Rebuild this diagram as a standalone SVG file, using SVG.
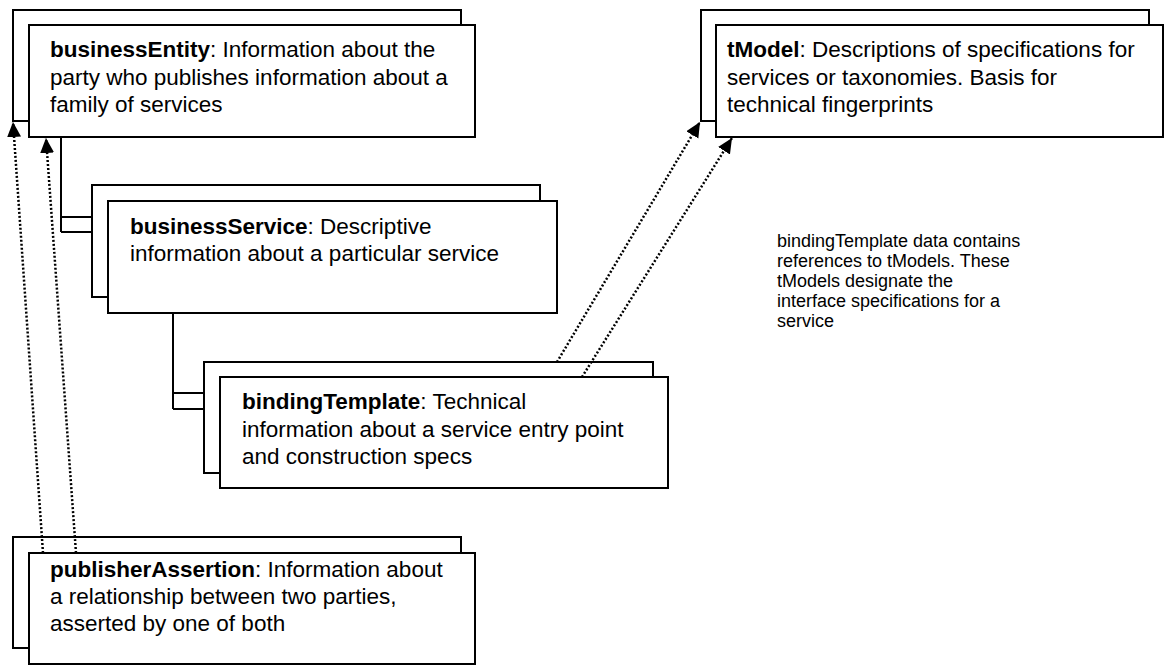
<svg xmlns="http://www.w3.org/2000/svg" width="1164" height="665" viewBox="0 0 1164 665">
<defs>
<style>
.box{fill:#fff;stroke:#000;stroke-width:2}
.t{font-family:"Liberation Sans",Arial,sans-serif;font-size:22.5px;fill:#000}
.b{font-weight:bold}
.note{font-family:"Liberation Sans",Arial,sans-serif;font-size:18px;fill:#000}
.tree{fill:none;stroke:#000;stroke-width:2}
.dot{fill:none;stroke:#000;stroke-width:2.5;stroke-dasharray:2 2}
</style>
<marker id="ah" markerUnits="userSpaceOnUse" markerWidth="16" markerHeight="16" refX="15" refY="7" orient="auto">
<path d="M0,0 L15,7 L0,14 Z" fill="#000"/>
</marker>
</defs>
<rect width="1164" height="665" fill="#fff"/>

<g id="connectors">
<path class="tree" d="M61,137 V232 M61,217 H92 M61,232 H108"/>
<path class="tree" d="M173,313 V409 M173,393 H204 M173,409 H220"/>
</g>

<g id="businessEntity">
<rect class="box" x="13" y="10" width="448" height="111"/>
<rect class="box" x="29" y="25" width="446" height="112"/>
<text class="t" x="50" y="57"><tspan class="b">businessEntity</tspan>: Information about the</text>
<text class="t" x="50" y="85">party who publishes information about a</text>
<text class="t" x="50" y="112">family of services</text>
</g>

<g id="businessService">
<rect class="box" x="92" y="185" width="448" height="112"/>
<rect class="box" x="108" y="201" width="449" height="112"/>
<text class="t" x="130" y="234"><tspan class="b">businessService</tspan>: Descriptive</text>
<text class="t" x="130" y="261">information about a particular service</text>
</g>

<g id="bindingTemplate">
<rect class="box" x="204" y="362" width="449" height="111"/>
<rect class="box" x="220" y="377" width="448" height="111"/>
<text class="t" x="242" y="409"><tspan class="b">bindingTemplate</tspan>: Technical</text>
<text class="t" x="242" y="437">information about a service entry point</text>
<text class="t" x="242" y="464">and construction specs</text>
</g>

<g id="tModel">
<rect class="box" x="701" y="10" width="448" height="111"/>
<rect class="box" x="716" y="25" width="447" height="112"/>
<text class="t" x="727" y="57"><tspan class="b">tModel</tspan>: Descriptions of specifications for</text>
<text class="t" x="727" y="85">services or taxonomies. Basis for</text>
<text class="t" x="727" y="112">technical fingerprints</text>
</g>

<g id="publisherAssertion">
<rect class="box" x="13" y="537" width="448" height="111"/>
<rect class="box" x="29" y="553" width="446" height="111"/>
<text class="t" x="50" y="577"><tspan class="b">publisherAssertion</tspan>: Information about</text>
<text class="t" x="50" y="604">a relationship between two parties,</text>
<text class="t" x="50" y="631">asserted by one of both</text>
</g>

<g id="note">
<text class="note" x="777" y="247">bindingTemplate data contains</text>
<text class="note" x="777" y="267">references to tModels. These</text>
<text class="note" x="777" y="287">tModels designate the</text>
<text class="note" x="777" y="307">interface specifications for a</text>
<text class="note" x="777" y="327">service</text>
</g>

<g id="dotted-connectors">
<line class="dot" x1="43" y1="553" x2="13" y2="122" marker-end="url(#ah)"/>
<line class="dot" x1="76" y1="553" x2="46" y2="138" marker-end="url(#ah)"/>
<line class="dot" x1="557" y1="362" x2="700" y2="122" marker-end="url(#ah)"/>
<line class="dot" x1="582" y1="377" x2="732" y2="138" marker-end="url(#ah)"/>
</g>
</svg>
